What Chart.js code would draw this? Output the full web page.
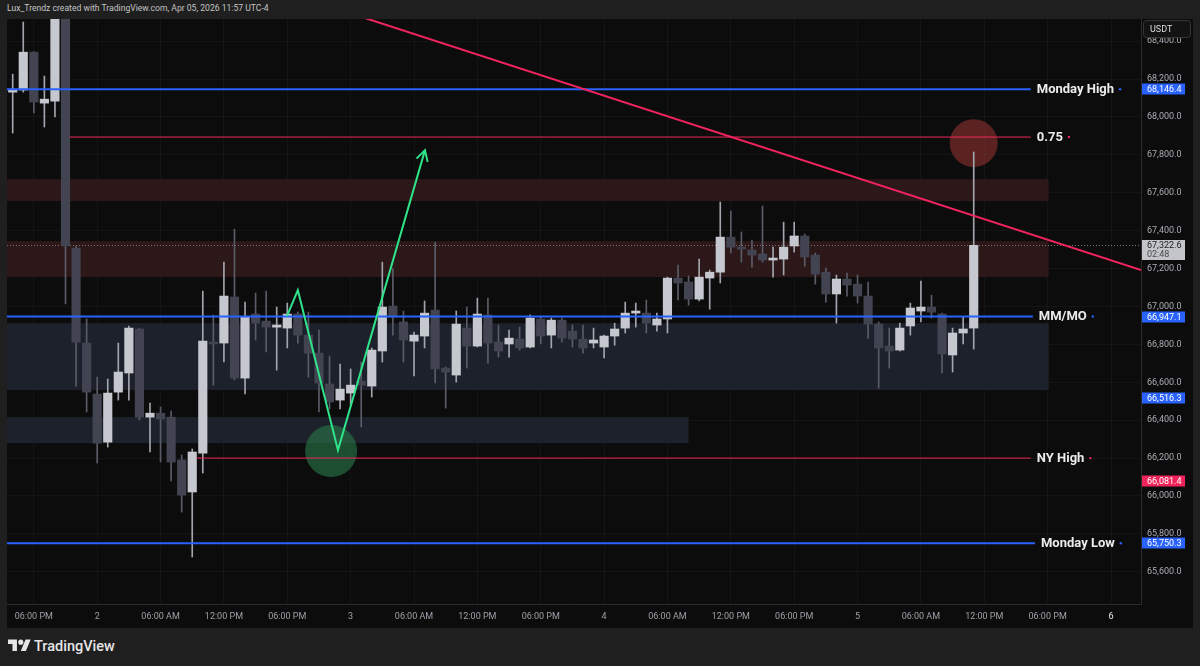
<!DOCTYPE html>
<html>
<head>
<meta charset="utf-8">
<script src="https://cdn.jsdelivr.net/npm/chart.js@4.4.1/dist/chart.umd.min.js"></script>
<style>
  html, body { margin: 0; padding: 0; }
  body { width: 1200px; height: 666px; overflow: hidden; position: relative; background: #1f1f1f; font-family: Roboto, sans-serif; }
  #hdr { position: absolute; left: 7px; top: 3px; font-size: 8.6px; color: #c4c4c4; white-space: nowrap; }
  #pane { position: absolute; left: 7px; top: 19px; width: 1186px; height: 609px; background: #0c0c0c; }
  #foot { position: absolute; left: 8px; top: 637px; display: flex; align-items: center; color: #e6e6e6; font-size: 14.5px; font-weight: 500; }
  #foot svg { width: 23px; height: 18px; margin-right: 3px; }
</style>
</head>
<body>
<div id="hdr">Lux_Trendz created with TradingView.com, Apr 05, 2026 11:57 UTC-4</div>
<div id="pane"><canvas id="chart" width="1186" height="609"></canvas></div>
<div id="foot">
  <svg viewBox="0 0 36 28"><path fill="#e6e6e6" d="M14 22H7V11H0V4h14v18zM28 22h-8l7.5-18h8L28 22z"/><circle fill="#e6e6e6" cx="20" cy="8" r="4"/></svg>
  <span>TradingView</span>
</div>
<script>
// hourly candles, index 0 = Apr 1 16:00
const opens  = [68131,68142,68342,68073,68084,68650,67308,66807,66538,66284,66548,66649,66881,66416,66437,66416,66190,66021,66226,66812,
                66807,67050,66622,66960,66923,66891,66886,66960,66849,66754,66591,66506,66543,66606,66580,66765,67002,66918,66817,66844,
                66981,66675,66638,66886,66791,66955,66812,66802,66828,66786,66934,66849,66928,66870,66828,66807,66786,66844,66886,66965,
                66965,66902,66934,67150,67129,67039,67150,67181,67366,67313,67298,67277,67245,67250,67319,67372,67271,67181,67066,67145,
                67118,67055,66907,66791,66770,66897,66976,66997,66960,66744,66860,66886];
const highs  = [68226,68501,68345,68216,68700,68700,67319,66934,66627,66617,66807,66897,66886,66490,66469,66448,66216,66248,67081,66955,
                67234,67408,67023,67071,67081,66997,67018,66970,66970,66875,66738,66696,66670,66707,66781,67234,67200,66976,66865,67029,
                67340,66680,66976,66997,67044,67044,66902,66875,66891,66955,66944,66939,66939,66902,66902,66886,66849,66912,67023,67018,
                67034,66965,67155,67219,67161,67250,67192,67551,67503,67393,67350,67530,67313,67445,67445,67382,67282,67203,67166,67176,
                67166,67129,66918,66886,66912,67018,67134,67060,66965,66886,66944,67815];
const lows   = [67915,68131,68021,67947,68000,67013,66580,66443,66174,66258,66506,66506,66401,66232,66179,66079,65915,65678,66121,66585,
                66707,66612,66538,66823,66760,66664,66781,66807,66627,66443,66459,66459,66480,66364,66522,66707,66849,66707,66633,66781,
                66596,66464,66601,66675,66786,66701,66733,66733,66770,66781,66802,66781,66812,66786,66754,66781,66728,66796,66860,66891,
                66860,66870,66860,67034,67007,67029,66986,67124,67282,67234,67208,67234,67155,67166,67287,67213,67118,67023,66912,67055,
                67018,66833,66569,66675,66765,66849,66918,66939,66649,66654,66802,66775];
const closes = [68147,68342,68079,68094,68650,67319,66812,66548,66279,66543,66654,66886,66416,66437,66406,66179,66005,66232,66817,66802,
                67055,66622,66944,66912,66891,66902,66960,66849,66754,66596,66496,66564,66585,66585,66770,66997,66944,66823,66849,66965,
                66670,66654,66907,66791,66960,66807,66765,66833,66781,66939,66844,66928,66833,66828,66781,66823,66844,66881,66965,66976,
                66912,66934,67150,67124,67039,67155,67181,67366,67313,67303,67271,67245,67255,67313,67372,67261,67171,67066,67145,67113,
                67055,66907,66781,66765,66886,66992,66997,66970,66749,66860,66881,67322.6];

const priceTicks = [65600,65800,66000,66200,66400,66600,66800,67000,67200,67400,67600,67800,68000,68200,68400];
const timeTickPos = [2,8,14,20,26,32,38,44,50,56,62,68,74,80,86,92,98,104];
const timeTickLabels = ['06:00 PM','2','06:00 AM','12:00 PM','06:00 PM','3','06:00 AM','12:00 PM','06:00 PM','4',
                        '06:00 AM','12:00 PM','06:00 PM','5','06:00 AM','12:00 PM','06:00 PM','6'];

// drawings
const zoneTop    = [67672, 67345, 66912, 66416];
const zoneBottom = [67556, 67155, 66559, 66279];
const zoneEnd    = [98.1, 98.1, 98.1, 64.0];

const levelNames  = ['Monday High', '0.75', 'MM/MO', 'NY High', 'Monday Low'];
const levelPrices = [68146.4, 67894, 66947.1, 66200, 65750.3];
const levelStart  = [-1, 5.4, -1, 17.4, -1];
const levelEnd    = [96.4, 96.4, 96.6, 96.4, 96.8];

const tagPrices = [68146.4, 66947.1, 66516.3, 66081.4, 65750.3];
const lastPrice = 67322.6;
const lastCountdown = '02:48';

const trendIdx   = [33.36, 106.85];
const trendPrice = [68522, 67192];

const pathIdx   = [25.97, 27.0, 30.8, 39.04];
const pathPrice = [66949, 67086, 66242, 67825];

const markerIdx   = [30.15, 91.0];
const markerPrice = [66237, 67862];

const UP_BODY = '#c6c8cf', DOWN_BODY = '#424551';
const UP_WICK = '#a2a5ad', DOWN_WICK = '#5a5d68';
const BLUE = '#2962ff', RED = '#f0285c';

const fmt = v => v.toLocaleString('en-US', { minimumFractionDigits: 1, maximumFractionDigits: 1 });

const overlay = {
  id: 'overlay',
  beforeDatasetsDraw(chart) {
    const { ctx, chartArea: a, scales: { x, y } } = chart;
    ctx.save();
    ctx.beginPath();
    ctx.rect(a.left, a.top, a.right - a.left, a.bottom - a.top);
    ctx.clip();
    // zones
    const zoneColors = ['#2c1719', '#2c1719', '#1d212b', '#1d212b'];
    zoneTop.forEach((t, i) => {
      const y1 = y.getPixelForValue(t), y2 = y.getPixelForValue(zoneBottom[i]);
      ctx.fillStyle = zoneColors[i];
      ctx.fillRect(a.left, y1, x.getPixelForValue(zoneEnd[i]) - a.left, y2 - y1);
    });
    // circles
    const mColors = ['rgba(40,120,72,0.62)', 'rgba(140,48,48,0.62)'];
    const mRadius = [26, 24];
    markerIdx.forEach((m, i) => {
      ctx.fillStyle = mColors[i];
      ctx.beginPath();
      ctx.arc(x.getPixelForValue(m), y.getPixelForValue(markerPrice[i]), mRadius[i], 0, Math.PI * 2);
      ctx.fill();
    });
    // last price dotted line
    const ly = Math.round(y.getPixelForValue(lastPrice)) + 0.5;
    ctx.strokeStyle = 'rgba(190,190,190,0.55)';
    ctx.lineWidth = 1;
    ctx.setLineDash([1, 2]);
    ctx.beginPath();
    ctx.moveTo(a.left, ly);
    ctx.lineTo(a.right, ly);
    ctx.stroke();
    ctx.setLineDash([]);
    ctx.restore();
  },
  afterDatasetsDraw(chart) {
    const { ctx, chartArea: a, scales: { x, y } } = chart;
    ctx.save();
    ctx.beginPath();
    ctx.rect(a.left, a.top, a.right - a.left, a.bottom - a.top);
    ctx.clip();
    // horizontal levels
    const lvColors = [BLUE, RED, BLUE, RED, BLUE];
    const lvWidth = [2, 1, 2, 1, 2];
    levelPrices.forEach((p, i) => {
      const py = y.getPixelForValue(p);
      const x1 = Math.max(a.left, x.getPixelForValue(levelStart[i]));
      const x2 = x.getPixelForValue(levelEnd[i]);
      ctx.strokeStyle = lvColors[i];
      ctx.lineWidth = lvWidth[i];
      ctx.beginPath();
      ctx.moveTo(x1, py);
      ctx.lineTo(x2, py);
      ctx.stroke();
      ctx.font = 'bold 13px Roboto';
      ctx.fillStyle = '#ececec';
      ctx.textBaseline = 'middle';
      ctx.textAlign = 'left';
      ctx.fillText(levelNames[i], x2 + 6, py + 0.5);
      const w = ctx.measureText(levelNames[i]).width;
      ctx.fillStyle = lvColors[i];
      ctx.beginPath();
      ctx.arc(x2 + 6 + w + 6, py, 1.2, 0, Math.PI * 2);
      ctx.fill();
    });
    // trendline
    ctx.strokeStyle = '#f2245e';
    ctx.lineWidth = 2;
    ctx.beginPath();
    ctx.moveTo(x.getPixelForValue(trendIdx[0]), y.getPixelForValue(trendPrice[0]));
    ctx.lineTo(x.getPixelForValue(trendIdx[1]), y.getPixelForValue(trendPrice[1]));
    ctx.stroke();
    // green path + arrow head
    const pts = pathIdx.map((v, i) => [x.getPixelForValue(v), y.getPixelForValue(pathPrice[i])]);
    ctx.strokeStyle = '#2fe38a';
    ctx.lineWidth = 2;
    ctx.lineJoin = 'miter';
    ctx.beginPath();
    pts.forEach((p, i) => i ? ctx.lineTo(p[0], p[1]) : ctx.moveTo(p[0], p[1]));
    ctx.stroke();
    const tip = pts[pts.length - 1], prev = pts[pts.length - 2];
    const ang = Math.atan2(tip[1] - prev[1], tip[0] - prev[0]);
    ctx.beginPath();
    ctx.moveTo(tip[0] - 12 * Math.cos(ang - 0.5), tip[1] - 12 * Math.sin(ang - 0.5));
    ctx.lineTo(tip[0], tip[1]);
    ctx.lineTo(tip[0] - 12 * Math.cos(ang + 0.5), tip[1] - 12 * Math.sin(ang + 0.5));
    ctx.stroke();
    ctx.restore();
  },
  afterDraw(chart) {
    const { ctx, chartArea: a, scales: { y } } = chart;
    ctx.save();
    ctx.font = '9px Roboto';
    ctx.textBaseline = 'middle';
    ctx.textAlign = 'left';
    const tagColors = [BLUE, BLUE, BLUE, '#f0245a', BLUE];
    tagPrices.forEach((p, i) => {
      const py = Math.round(y.getPixelForValue(p));
      ctx.fillStyle = tagColors[i];
      ctx.fillRect(a.right + 1, py - 5.5, 43, 11);
      ctx.fillStyle = '#ffffff';
      ctx.fillText(fmt(p), a.right + 6, py + 0.5);
    });
    // last price tag
    const ly = Math.round(y.getPixelForValue(lastPrice));
    ctx.fillStyle = '#c3c5ca';
    ctx.fillRect(a.right + 1, ly - 5, 43, 20);
    ctx.fillStyle = '#1c1c1c';
    ctx.fillText(fmt(lastPrice), a.right + 6, ly + 0.5);
    ctx.fillStyle = '#4a4a4a';
    ctx.fillText(lastCountdown, a.right + 6, ly + 10);
    // currency box
    ctx.fillStyle = '#131313';
    ctx.strokeStyle = '#363636';
    ctx.lineWidth = 1;
    ctx.beginPath();
    ctx.roundRect(a.right + 2.5, 1.5, 47, 17, 3);
    ctx.fill();
    ctx.stroke();
    ctx.fillStyle = '#dcdcdc';
    ctx.fillText('USDT', a.right + 9, 10.5);
    ctx.restore();
  }
};

const candleIdx = opens.map((_, i) => i);

new Chart(document.getElementById('chart'), {
  type: 'bar',
  data: {
    datasets: [
      {
        label: 'body',
        order: 0,
        data: candleIdx.map(i => ({ x: i, y: [opens[i], closes[i]] })),
        backgroundColor: candleIdx.map(i => closes[i] >= opens[i] ? UP_BODY : DOWN_BODY),
        barThickness: 8.5,
        minBarLength: 2,
        grouped: false,
        borderWidth: 0
      },
      {
        label: 'wick',
        order: 1,
        data: candleIdx.map(i => ({ x: i, y: [lows[i], highs[i]] })),
        backgroundColor: candleIdx.map(i => closes[i] >= opens[i] ? UP_WICK : DOWN_WICK),
        barThickness: 1,
        grouped: false,
        borderWidth: 0
      }
    ]
  },
  options: {
    responsive: false,
    animation: false,
    layout: { padding: 0 },
    plugins: { legend: { display: false }, tooltip: { enabled: false } },
    scales: {
      x: {
        type: 'linear',
        min: -0.54,
        max: 106.84,
        offset: false,
        afterBuildTicks: s => { s.ticks = timeTickPos.map(v => ({ value: v })); },
        afterFit: s => { s.height = 24; s.paddingLeft = 0; s.paddingRight = 0; },
        ticks: {
          autoSkip: false,
          maxRotation: 0,
          padding: 7,
          font: { family: 'Roboto', size: 9 },
          color: c => (c.tick && c.tick.value === 104) ? '#ededed' : '#9da0a8',
          callback: (v, i) => timeTickLabels[i]
        },
        grid: { color: 'rgba(255,255,255,0.035)', drawTicks: false, offset: false },
        border: { color: '#2c2c2c' }
      },
      y: {
        position: 'right',
        min: 65430,
        max: 68517,
        beginAtZero: false,
        afterBuildTicks: s => { s.ticks = priceTicks.map(v => ({ value: v })); },
        afterFit: s => { s.width = 52; s.paddingTop = 0; s.paddingBottom = 0; },
        ticks: {
          autoSkip: false,
          padding: 6,
          font: { family: 'Roboto', size: 9 },
          color: '#a9acb4',
          callback: v => fmt(v)
        },
        grid: { color: 'rgba(255,255,255,0.035)', drawTicks: false },
        border: { color: '#2c2c2c' }
      }
    }
  },
  plugins: [overlay]
});
</script>
</body>
</html>
